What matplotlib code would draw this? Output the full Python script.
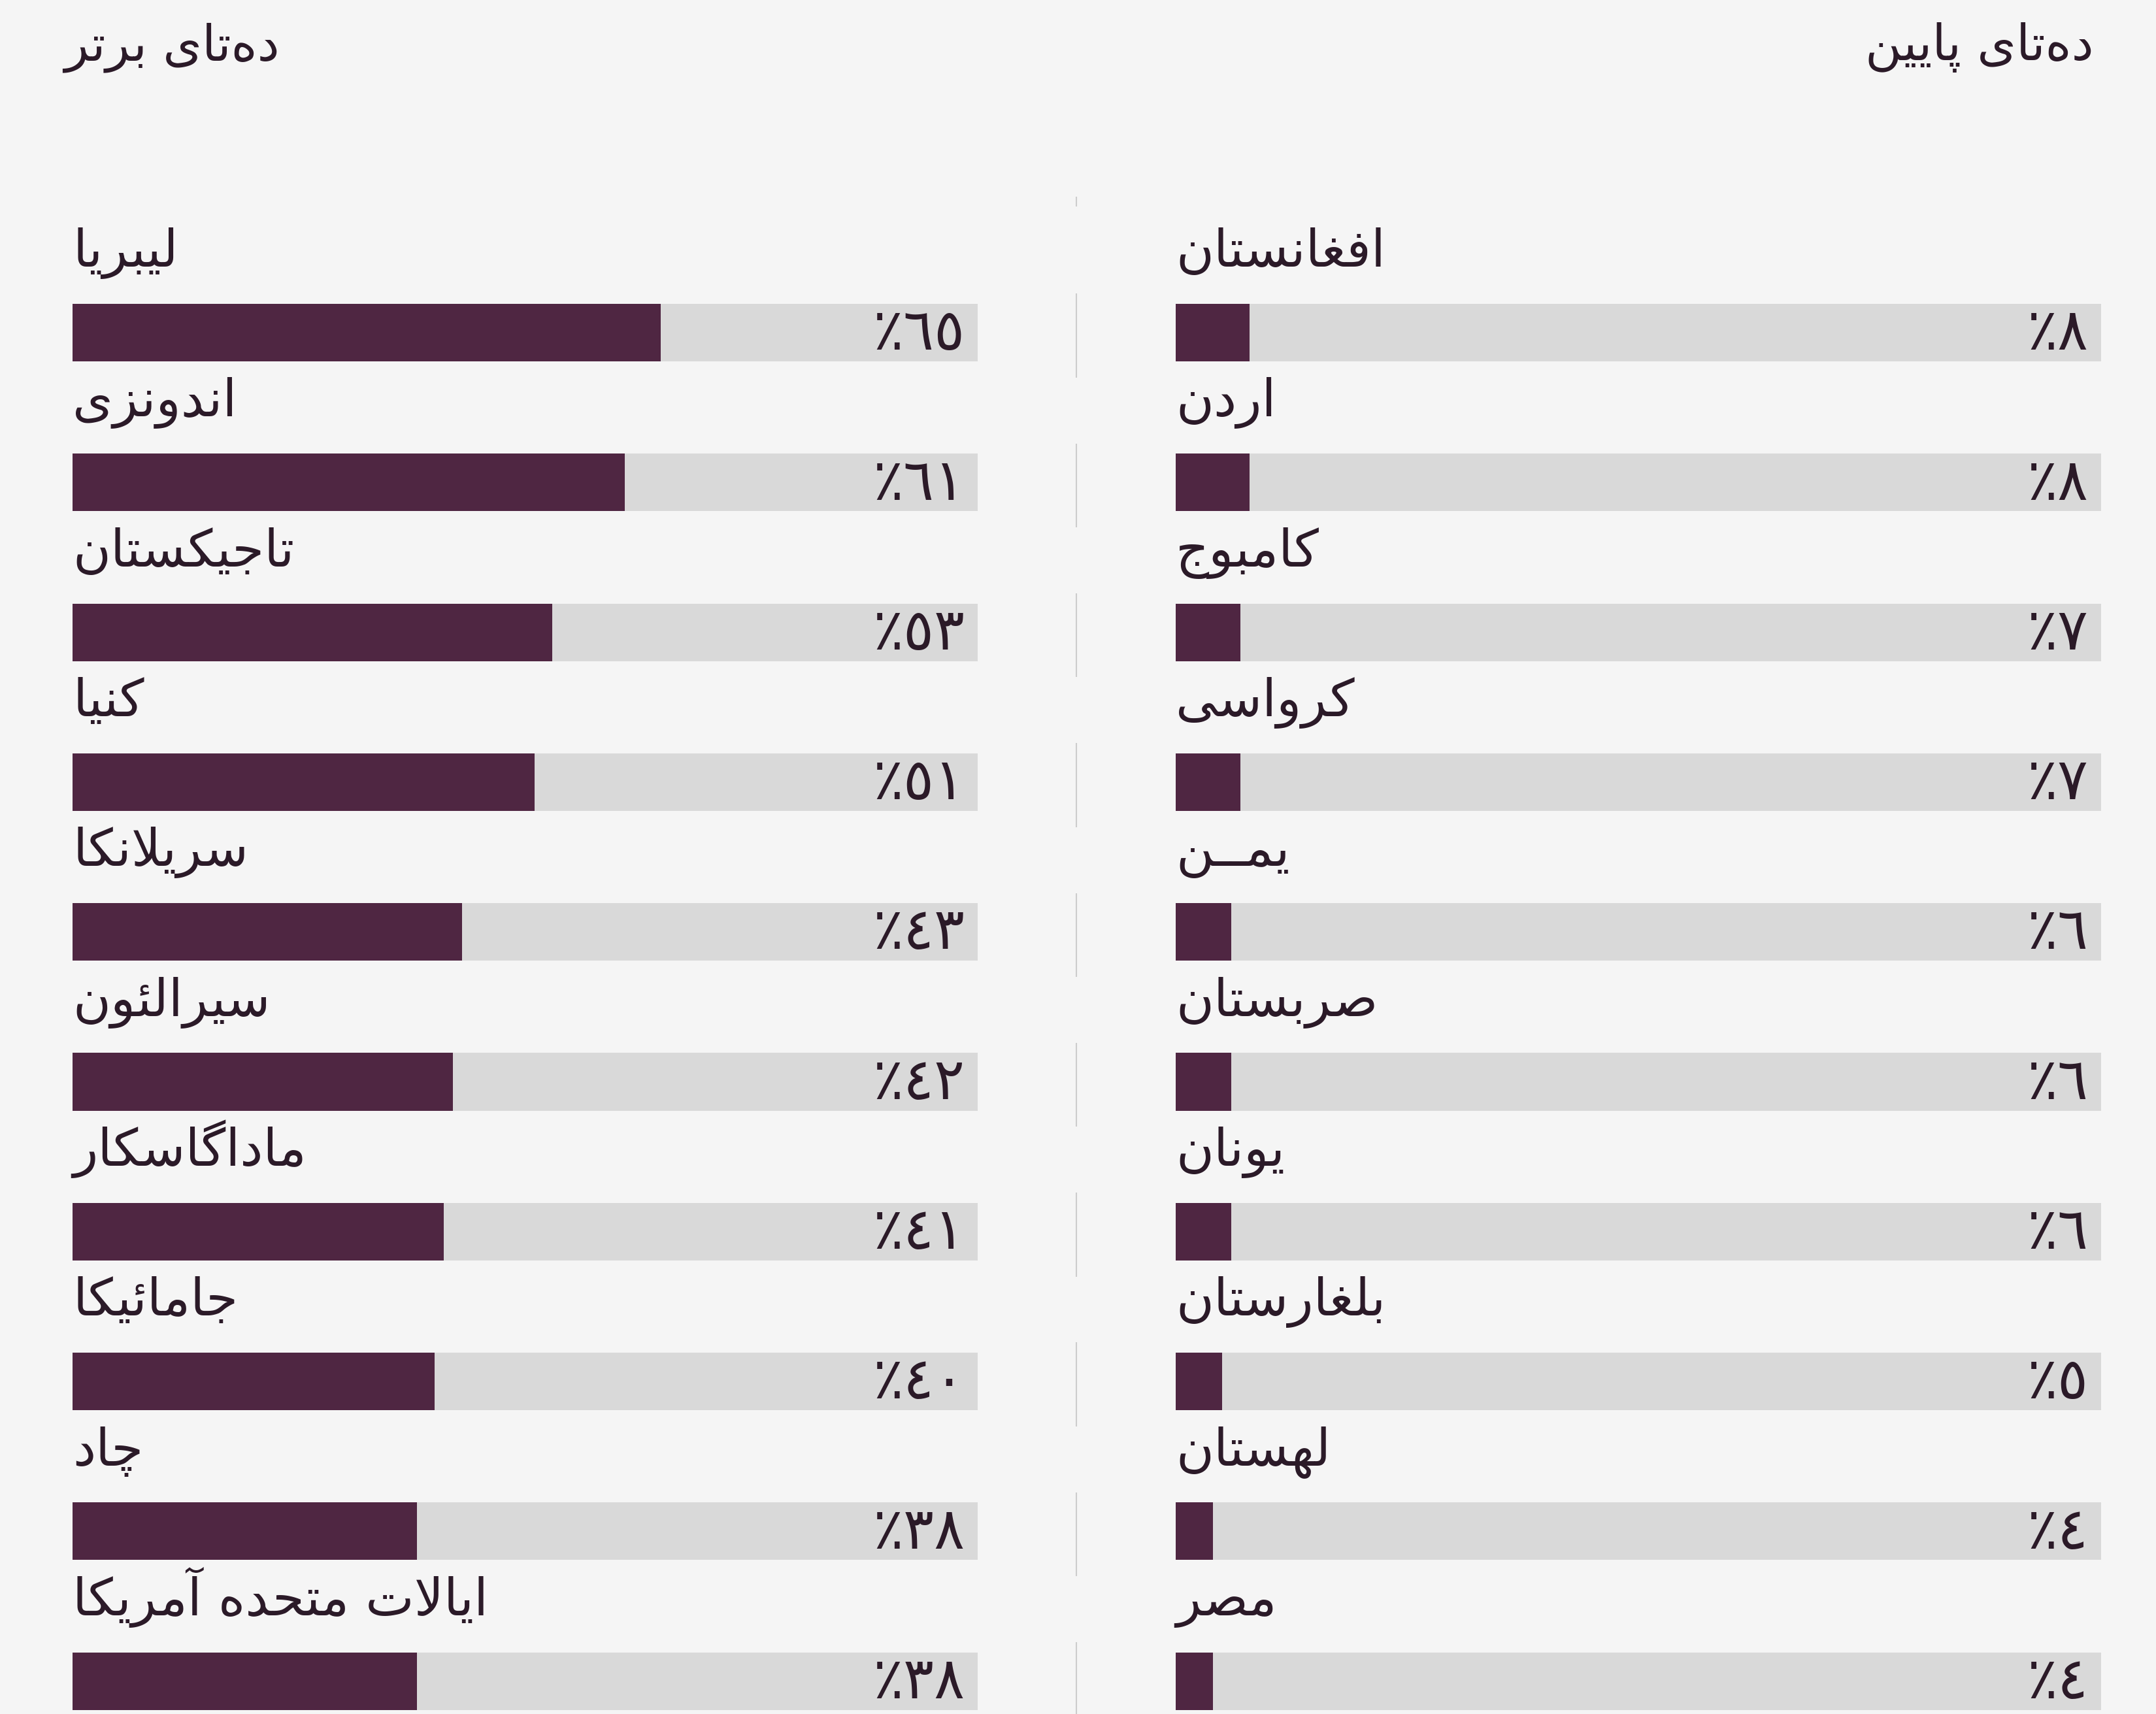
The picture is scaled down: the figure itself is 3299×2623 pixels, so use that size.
import matplotlib
matplotlib.use("Agg")
import matplotlib.pyplot as plt

# --- داده‌ها ---
top_countries = ["لیبریا", "اندونزی", "تاجیکستان", "کنیا", "سریلانکا",
                 "سیرالئون", "ماداگاسکار", "جامائیکا", "چاد", "ایالات متحده آمریکا"]
top_values = [65, 61, 53, 51, 43, 42, 41, 40, 38, 38]

bottom_countries = ["افغانستان", "اردن", "کامبوج", "کرواسی", "یمــن",
                    "صربستان", "یونان", "بلغارستان", "لهستان", "مصر"]
bottom_values = [8, 8, 7, 7, 6, 6, 6, 5, 4, 4]

titles = ["ده\u200cتای برتر", "ده\u200cتای پایین"]

BG = "#f5f5f5"
PURPLE = "#4f2642"
TRACK = "#d9d9d9"
TEXT = "#2b1a28"

# matplotlib has no arabic shaping, so pick presentation forms by hand
DUAL = {'ب': 0xFE8F, 'پ': 0xFB56, 'ت': 0xFE95, 'ث': 0xFE99, 'ج': 0xFE9D,
        'چ': 0xFB7A, 'ح': 0xFEA1, 'خ': 0xFEA5, 'س': 0xFEB1, 'ش': 0xFEB5,
        'ص': 0xFEB9, 'ض': 0xFEBD, 'ط': 0xFEC1, 'ظ': 0xFEC5, 'ع': 0xFEC9,
        'غ': 0xFECD, 'ف': 0xFED1, 'ق': 0xFED5, 'ک': 0xFB8E, 'گ': 0xFB92,
        'ل': 0xFEDD, 'م': 0xFEE1, 'ن': 0xFEE5, 'ه': 0xFEE9, 'ی': 0xFBFC,
        'ئ': 0xFE89}
RIGHT = {'ا': 0xFE8D, 'آ': 0xFE81, 'د': 0xFEA9, 'ذ': 0xFEAB, 'ر': 0xFEAD,
         'ز': 0xFEAF, 'ژ': 0xFB8A, 'و': 0xFEED, 'لا': 0xFEFB, 'لآ': 0xFEF5}


def kind(t):
    if t in DUAL or t == 'ـ':
        return 'D'
    if t in RIGHT:
        return 'R'
    return 'U'


def shape(s):
    toks = []
    i = 0
    while i < len(s):
        if s[i] == 'ل' and i + 1 < len(s) and s[i + 1] in 'اآ':
            toks.append(s[i:i + 2])
            i += 2
        else:
            toks.append(s[i])
            i += 1
    out = []
    for j, t in enumerate(toks):
        k = kind(t)
        prev = kind(toks[j - 1]) if j > 0 else 'U'
        nxt = kind(toks[j + 1]) if j + 1 < len(toks) else 'U'
        jp = k != 'U' and prev == 'D'
        jn = k == 'D' and nxt != 'U'
        if t == '\u200c':
            continue
        if t == 'ـ':
            out.append(t)
        elif k == 'D':
            off = 3 if (jp and jn) else 1 if jp else 2 if jn else 0
            out.append(chr(DUAL[t] + off))
        elif k == 'R':
            out.append(chr(RIGHT[t] + (1 if jp else 0)))
        else:
            out.append(t)
    return ''.join(reversed(out))


def pct(v):
    return '\u066A' + ''.join(chr(0x0660 + int(d)) for d in str(v))


plt.rcParams['font.family'] = ['DejaVu Sans']

W, H = 3299, 2623
fig = plt.figure(figsize=(W / 100, H / 100), dpi=100, facecolor=BG)

row0, step = 509, 229.3          # pixel centre of first bar, row spacing
ylim = ((H - row0) / step, -row0 / step)
bar_h = 0.384

panels = [(111.5, 1496, top_countries, top_values),
          (1799, 3215, bottom_countries, bottom_values)]
axes = []
for x0, x1, names, vals in panels:
    ax = fig.add_axes([x0 / W, 0, (x1 - x0) / W, 1])
    ax.set_facecolor(BG)
    y = list(range(len(names)))
    ax.barh(y, [100] * len(y), height=bar_h, color=TRACK)
    ax.barh(y, vals, height=bar_h, color=PURPLE)
    for yi, name, v in zip(y, names, vals):
        ax.text(0, yi - 0.44, shape(name), ha='left', va='baseline',
                fontsize=57, color=TEXT)
        ax.text(98.6, yi + 0.01, pct(v), ha='right', va='center',
                fontsize=63, color=TEXT)
    ax.set_xlim(0, 100)
    ax.set_ylim(*ylim)
    ax.axis('off')
    axes.append(ax)

# thin divider between the two lists
ax = axes[0]
xd = (1647 - 111.5) / (1496 - 111.5)
for yi in range(len(top_countries)):
    ax.vlines(xd, yi - 0.26, yi + 0.30, transform=ax.get_yaxis_transform(),
              colors='#cccccc', lw=1.5, clip_on=False)
ax.vlines(xd, -0.907, -0.842, transform=ax.get_yaxis_transform(),
          colors='#cccccc', lw=1.5, clip_on=False)

fig.text(98 / W, 1 - 92 / H, shape(titles[0]), ha='left', va='baseline',
         fontsize=55, color=TEXT)
fig.text(3204 / W, 1 - 92 / H, shape(titles[1]), ha='right', va='baseline',
         fontsize=55, color=TEXT)

fig.savefig('out.png', dpi=100, facecolor=BG)
